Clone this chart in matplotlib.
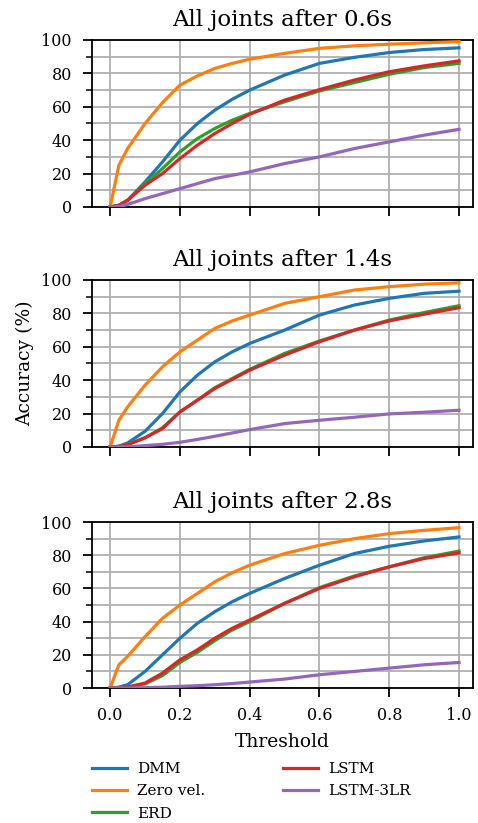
import matplotlib
matplotlib.use("Agg")
import matplotlib.pyplot as plt
from matplotlib.ticker import MultipleLocator

plt.rcParams['font.family'] = ['DejaVu Serif']

thresholds = [0, .025, .05, .1, .15, .2, .25, .3, .35, .4, .5, .6, .7, .8, .9, 1.0]
titles = ["All joints after 0.6s", "All joints after 1.4s", "All joints after 2.8s"]
labels = ["DMM", "Zero vel.", "ERD", "LSTM", "LSTM-3LR"]
colors = ["#1f77b4", "#ff7f0e", "#2ca02c", "#d62728", "#9467bd"]

# panel 1 (0.6s)
dmm_06 = [0, 1, 4, 15, 27, 40, 50, 58, 64.5, 70, 79, 86, 89.6, 92.5, 94.3, 95.3]
zero_06 = [0, 25, 35, 50, 62.5, 73, 78.5, 83, 86, 88.5, 92, 95, 96.5, 97.5, 98.3, 99]
erd_06 = [0, 1, 4, 14, 23, 33, 41, 47, 52, 56, 63, 69.5, 74.5, 79.5, 83.5, 86]
lstm_06 = [0, 1, 4, 13, 20, 29, 37, 44, 50, 55.5, 64, 70.3, 76, 81, 84.5, 87.5]
lstm3lr_06 = [0, 0.3, 1.5, 5, 8, 11, 14, 17, 19, 21, 26, 30, 35, 39, 43, 46.5]

# panel 2 (1.4s)
dmm_14 = [0, 0.5, 2.4, 9.4, 20, 33, 43, 51, 57, 62, 70, 79, 85, 89, 92, 93.3]
zero_14 = [0, 16, 24, 37, 48, 57, 64, 71, 75.5, 79, 86, 90, 94, 96, 97.5, 98.3]
erd_14 = [0, 0.3, 1.4, 5.5, 11.5, 21, 28, 35.5, 41, 46.5, 56, 63.5, 70, 76, 80.5, 84.6]
lstm_14 = [0, 0.3, 1.4, 5.5, 11, 21, 28, 35, 40.5, 46, 55, 63, 70, 75.5, 79.5, 83.4]
lstm3lr_14 = [0, 0, 0.1, 0.8, 1.6, 2.8, 4.5, 6.4, 8.4, 10.4, 14, 16, 17.8, 19.8, 20.8, 22]

# panel 3 (2.8s)
dmm_28 = [0, 0.5, 2, 10, 20, 30, 39, 46, 52, 57, 66, 74, 81, 85.4, 88.6, 91]
zero_28 = [0, 14, 19, 31, 42, 50, 57, 64, 69.5, 74, 81, 86, 90, 93, 95, 96.6]
erd_28 = [0, 0.1, 0.5, 2.5, 7.5, 15.4, 21.5, 28.6, 35, 40, 51, 60.5, 67.5, 73, 78.5, 82.5]
lstm_28 = [0, 0.1, 0.6, 3, 9, 17, 23, 30, 36, 41, 51, 60, 67, 73, 78, 81.4]
lstm3lr_28 = [0, 0, 0, 0.2, 0.5, 1, 1.4, 2, 2.7, 3.6, 5.4, 8, 10, 12, 14, 15.4]

panels = [
    [dmm_06, zero_06, erd_06, lstm_06, lstm3lr_06],
    [dmm_14, zero_14, erd_14, lstm_14, lstm3lr_14],
    [dmm_28, zero_28, erd_28, lstm_28, lstm3lr_28],
]

fig = plt.figure(figsize=(4.78, 8.23), dpi=100)
left, width = 0.1925, 0.797
boxes = [(0.7485, 0.2029), (0.4569, 0.2029), (0.164, 0.2017)]
axes = []
for i, (b, h) in enumerate(boxes):
    ax = fig.add_axes([left, b, width, h])
    axes.append(ax)
    for series, lab, c in zip(panels[i], labels, colors):
        ax.plot(thresholds, series, color=c, lw=2.3, label=lab, zorder=3)
    ax.set_xlim(-0.052, 1.04)
    ax.set_ylim(0, 100)
    ax.xaxis.set_major_locator(MultipleLocator(0.2))
    ax.yaxis.set_major_locator(MultipleLocator(20))
    ax.yaxis.set_minor_locator(MultipleLocator(10))
    ax.grid(True, which='major', color='#b0b0b0', lw=1.3)
    ax.grid(True, which='minor', axis='y', color='#b0b0b0', lw=1.3)
    ax.set_axisbelow(True)
    ax.set_title(titles[i], fontsize=16.5, pad=10)
    ax.tick_params(axis='both', which='major', labelsize=11.5, length=6.5, width=1.3,
                   direction='out', pad=6)
    ax.tick_params(axis='y', which='major', pad=8)
    ax.tick_params(axis='x', which='major', pad=7.5)
    ax.tick_params(axis='y', which='minor', length=4, width=1.1)
    for s in ax.spines.values():
        s.set_linewidth(1.3)
    if i < 2:
        ax.tick_params(axis='x', labelbottom=False)

axes[1].set_ylabel("Accuracy (%)", fontsize=13.5, labelpad=5)
axes[2].set_xlabel("Threshold", fontsize=13.5, labelpad=6)

handles, labs = axes[0].get_legend_handles_labels()
fig.legend(handles, labs, ncol=2, frameon=False, fontsize=11,
           loc='upper left', bbox_to_anchor=(0.163, 0.091), handlelength=2.3,
           handletextpad=0.65, columnspacing=5.1, labelspacing=0.55)

fig.savefig("out.png", dpi=100)
